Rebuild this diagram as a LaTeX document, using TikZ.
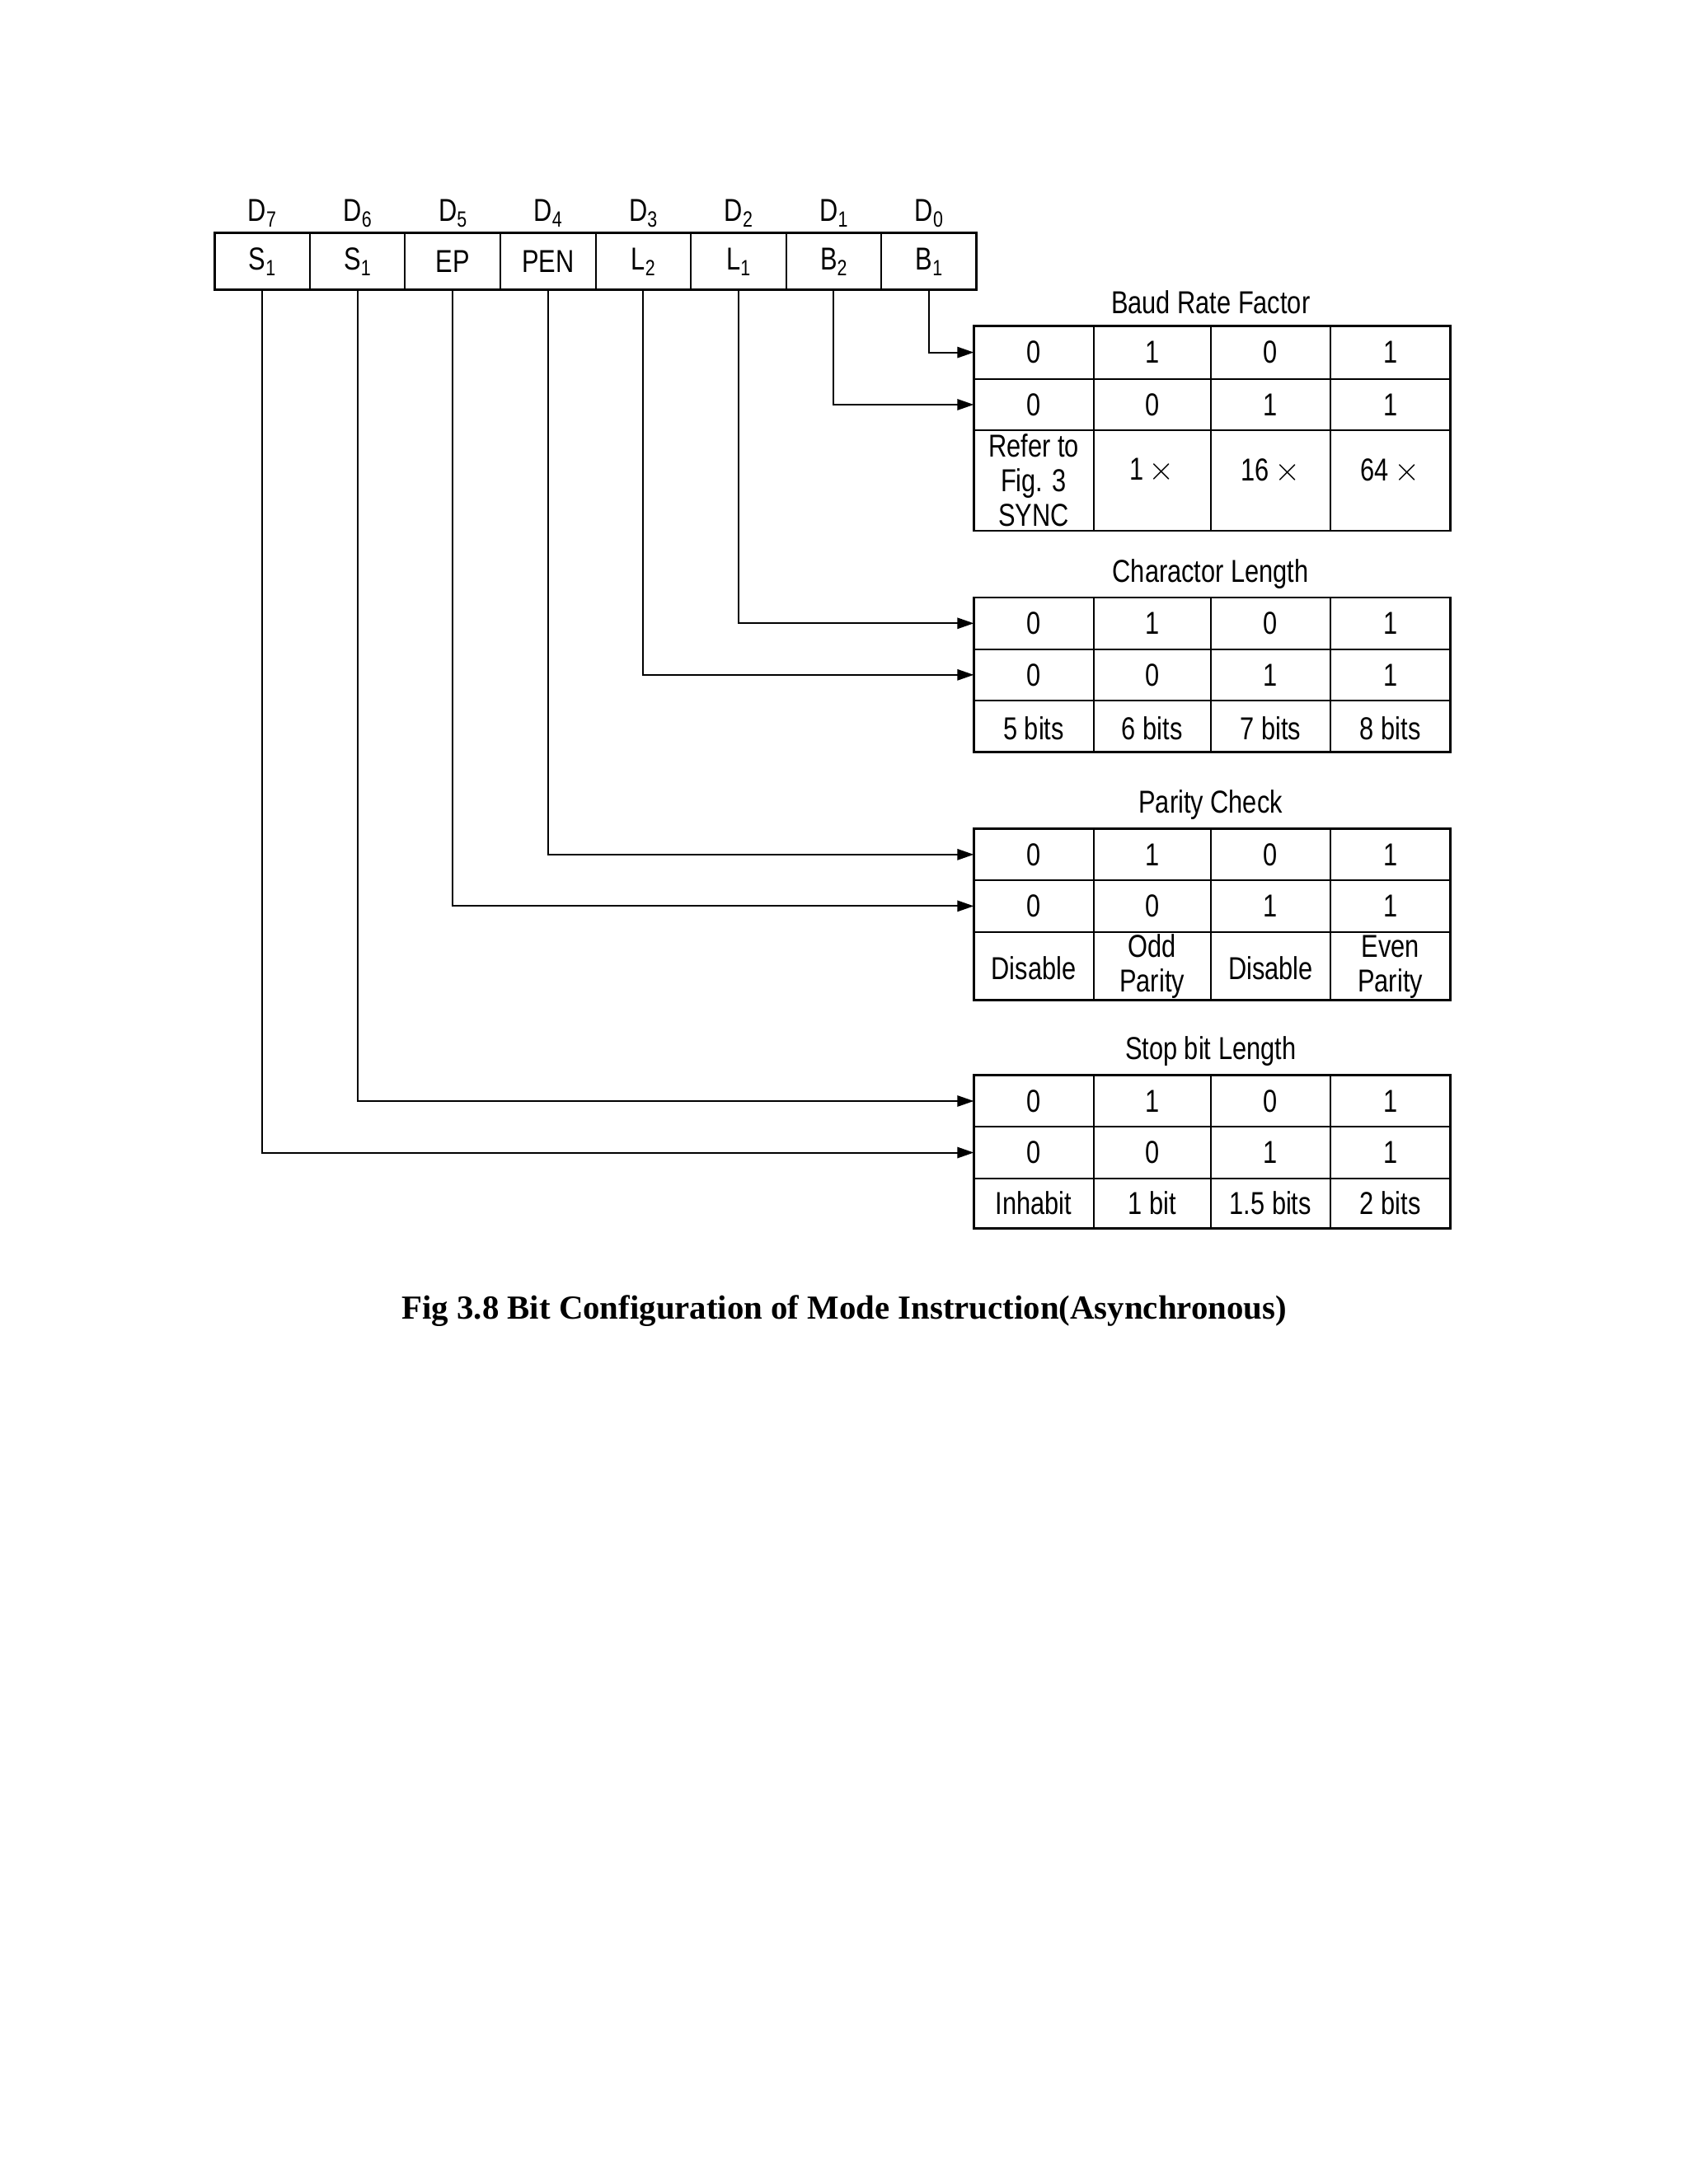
\documentclass[tikz,border=0pt]{standalone}
\usepackage{fontspec}
\setmainfont{Liberation Serif}
\newfontfamily\cond[FakeStretch=0.8]{Liberation Sans}
\usetikzlibrary{arrows.meta}
\newcommand{\sbs}[1]{\raisebox{-0.35ex}{\fontsize{8}{8}\selectfont #1}}
\begin{document}
\begin{tikzpicture}[x=0.505pt,y=-0.505pt,
  cellt/.style={font=\cond\fontsize{11.5}{12}\selectfont, align=center},
  ln/.style={line width=0.6pt},
  arr/.style={ln,-{Triangle[length=6pt,width=4pt]}}]
\useasboundingbox (0,0) rectangle (1212,1568);
% register
\draw[line width=0.8pt] (154,167) rectangle (701,208);
\foreach \i/\d/\t in {0/7/S\sbs{1},1/6/S\sbs{1},2/5/EP,3/4/PEN,4/3/L\sbs{2},5/2/L\sbs{1},6/1/B\sbs{2},7/0/B\sbs{1}}{
  \pgfmathsetmacro\xa{154+\i*68.375}
  \pgfmathsetmacro\xc{\xa+34.19}
  \draw[ln] (\xa,167) -- (\xa,208);
  \node[cellt] (r\i) at (\xc,188) {\t};
  \node[cellt] (d\i) at (\xc,153) {D\sbs{\d}};
  \coordinate (b\i) at (\xc,208);
}
% tables
\newcommand{\tbl}[8]{%
  \draw[line width=0.8pt] (699,#1) rectangle (1041,#4);
  \foreach \y in {#2,#3} \draw[ln] (699,\y) -- (1041,\y);
  \foreach \x in {785,869,955} \draw[ln] (\x,#1) -- (\x,#4);
  \node[cellt] (#6t) at (869,#1-17) {#5};
  \coordinate (#6a) at (699,{(#1+#2)/2});
  \coordinate (#6b) at (699,{(#2+#3)/2});
  \foreach \x/\v in {742/0,827/1,912/0,998/1} \node[cellt] at (\x,{(#1+#2)/2}) {\v};
  \foreach \x/\v in {742/0,827/0,912/1,998/1} \node[cellt] at (\x,{(#2+#3)/2}) {\v};
  #7
}
\tbl{234}{272}{309}{381}{Baud Rate Factor}{A}{
  \node[cellt,font=\cond\fontsize{11.5}{12.5}\selectfont] at (742,345) {Refer to\\Fig. 3\\SYNC};
  \node[cellt] at (827,338) {1\,$\times$};
  \node[cellt] at (912,338) {16\,$\times$};
  \node[cellt] at (998,338) {64\,$\times$};}{}
\tbl{429}{466}{503}{540}{Charactor Length}{B}{
  \node[cellt] at (742,523) {5 bits};
  \node[cellt] at (827,523) {6 bits};
  \node[cellt] at (912,523) {7 bits};
  \node[cellt] at (998,523) {8 bits};}{}
\tbl{595}{632}{669}{718}{Parity Check}{C}{
  \node[cellt] at (742,695) {Disable};
  \node[cellt,font=\cond\fontsize{11.5}{12.5}\selectfont] at (827,694) {Odd\\Parity};
  \node[cellt] at (912,695) {Disable};
  \node[cellt,font=\cond\fontsize{11.5}{12.5}\selectfont] at (998,694) {Even\\Parity};}{}
\tbl{772}{809}{846}{882}{Stop bit Length}{D}{
  \node[cellt] at (742,864) {Inhabit};
  \node[cellt] at (827,864) {1 bit};
  \node[cellt] at (912,864) {1.5 bits};
  \node[cellt] at (998,864) {2 bits};}{}
% connectors
\draw[arr] (b7) |- (Aa);
\draw[arr] (b6) |- (Ab);
\draw[arr] (b5) |- (Ba);
\draw[arr] (b4) |- (Bb);
\draw[arr] (b3) |- (Ca);
\draw[arr] (b2) |- (Cb);
\draw[arr] (b1) |- (Da);
\draw[arr] (b0) |- (Db);
\node[font=\bfseries\fontsize{12.2}{14}\selectfont] (cap) at (606,941) {Fig 3.8 Bit Configuration of Mode Instruction(Asynchronous)};
\end{tikzpicture}
\end{document}
